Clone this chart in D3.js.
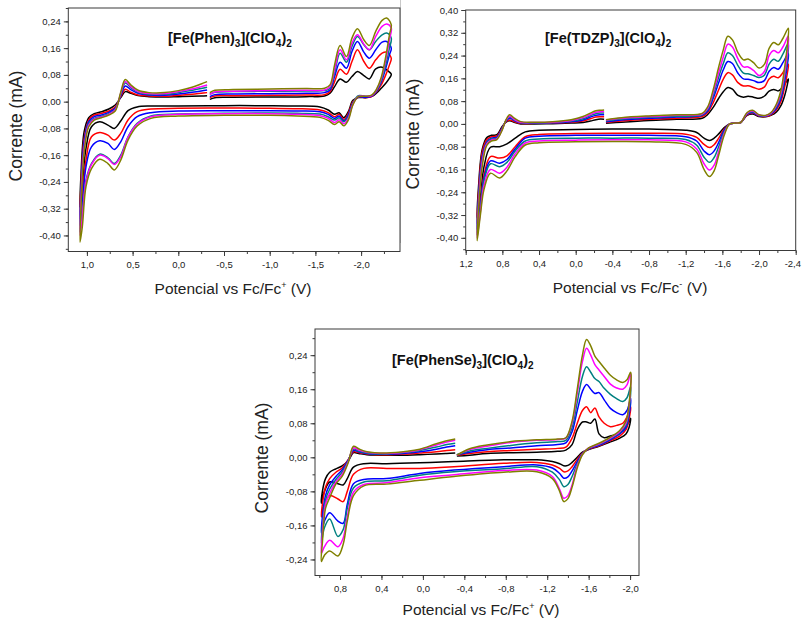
<!DOCTYPE html>
<html>
<head>
<meta charset="utf-8">
<script src="https://cdn.jsdelivr.net/npm/d3@7"></script>
<style>
  html, body { margin: 0; padding: 0; background: #fff; }
  svg { display: block; font-family: "Liberation Sans", Arial, sans-serif; }
</style>
</head>
<body>
<svg id="fig" width="802" height="621"></svg>
<script>
// Scan-rate series colours (slowest to fastest)
const seriesColors = ["#000000", "#ff0000", "#0000ff", "#008080", "#ff00ff", "#808000"];

// ---------- [Fe(Phen)3](ClO4)2 ----------
// potential (V vs Fc/Fc+) in scan order: forward sweep, reverse sweep, return sweep
const phenPotential = [
  -0.345, -0.40, -0.60, -1.00, -1.40, -1.60, -1.66, -1.71, -1.77, -1.84, -1.90, -1.96, -2.03, -2.09, -2.16, -2.23, -2.28, -2.33,
  -2.31, -2.27, -2.22, -2.17, -2.12, -2.05, -1.97, -1.91, -1.86, -1.81, -1.76, -1.71, -1.64, -1.55, -1.30, -1.00, -0.50, 0.00, 0.30, 0.45, 0.55, 0.63, 0.70, 0.77, 0.86, 0.95, 1.01, 1.05, 1.075,
  1.065, 1.03, 0.98, 0.92, 0.84, 0.76, 0.69, 0.63, 0.58, 0.52, 0.44, 0.32, 0.15, 0.00, -0.15, -0.25, -0.315
];
const phenBlack = [
  0.007, 0.012, 0.013, 0.014, 0.015, 0.017, 0.025, 0.045, 0.068, 0.058, 0.075, 0.090, 0.078, 0.068, 0.098, 0.103, 0.095, 0.082,
  0.070, 0.055, 0.040, 0.026, 0.016, 0.012, 0.012, 0.004, -0.030, -0.048, -0.033, -0.038, -0.025, -0.016, -0.013, -0.012, -0.012, -0.013, -0.013, -0.016, -0.027, -0.058, -0.080, -0.070, -0.060, -0.075, -0.140, -0.250, -0.315,
  -0.220, -0.090, -0.048, -0.036, -0.030, -0.022, -0.010, 0.012, 0.030, 0.025, 0.018, 0.015, 0.014, 0.015, 0.016, 0.017, 0.018
];
const phenRed = [
  0.012, 0.017, 0.018, 0.019, 0.020, 0.021, 0.030, 0.060, 0.097, 0.082, 0.120, 0.155, 0.120, 0.100, 0.125, 0.145, 0.148, 0.130,
  0.110, 0.080, 0.050, 0.030, 0.016, 0.012, 0.013, 0.000, -0.035, -0.053, -0.038, -0.045, -0.033, -0.025, -0.021, -0.020, -0.019, -0.020, -0.022, -0.030, -0.055, -0.095, -0.115, -0.100, -0.092, -0.105, -0.175, -0.285, -0.350,
  -0.250, -0.110, -0.055, -0.040, -0.035, -0.028, -0.016, 0.015, 0.037, 0.028, 0.020, 0.017, 0.016, 0.019, 0.022, 0.025, 0.027
];
const phenBlue = [
  0.015, 0.021, 0.023, 0.024, 0.025, 0.027, 0.035, 0.075, 0.118, 0.100, 0.150, 0.180, 0.148, 0.130, 0.155, 0.178, 0.180, 0.160,
  0.140, 0.100, 0.058, 0.032, 0.017, 0.013, 0.014, -0.004, -0.040, -0.057, -0.043, -0.050, -0.038, -0.030, -0.028, -0.027, -0.027, -0.028, -0.033, -0.045, -0.075, -0.120, -0.143, -0.125, -0.117, -0.135, -0.195, -0.305, -0.370,
  -0.270, -0.120, -0.060, -0.045, -0.040, -0.032, -0.020, 0.018, 0.047, 0.036, 0.025, 0.020, 0.019, 0.023, 0.028, 0.032, 0.035
];
const phenTeal = [
  0.022, 0.028, 0.030, 0.031, 0.032, 0.033, 0.040, 0.085, 0.145, 0.118, 0.165, 0.195, 0.170, 0.155, 0.180, 0.200, 0.205, 0.190,
  0.160, 0.110, 0.062, 0.034, 0.019, 0.016, 0.018, -0.005, -0.045, -0.060, -0.048, -0.055, -0.045, -0.037, -0.035, -0.034, -0.035, -0.037, -0.043, -0.065, -0.105, -0.160, -0.185, -0.168, -0.157, -0.185, -0.235, -0.334, -0.390,
  -0.290, -0.135, -0.065, -0.050, -0.044, -0.036, -0.023, 0.022, 0.056, 0.042, 0.028, 0.022, 0.022, 0.027, 0.034, 0.039, 0.043
];
const phenMagenta = [
  0.022, 0.029, 0.031, 0.033, 0.034, 0.035, 0.045, 0.095, 0.155, 0.125, 0.175, 0.200, 0.172, 0.155, 0.195, 0.225, 0.232, 0.220,
  0.185, 0.125, 0.068, 0.036, 0.019, 0.016, 0.016, -0.008, -0.050, -0.066, -0.054, -0.062, -0.050, -0.042, -0.038, -0.036, -0.036, -0.038, -0.045, -0.067, -0.107, -0.165, -0.188, -0.170, -0.160, -0.188, -0.240, -0.344, -0.400,
  -0.300, -0.140, -0.070, -0.052, -0.046, -0.038, -0.025, 0.025, 0.060, 0.045, 0.030, 0.024, 0.024, 0.030, 0.038, 0.045, 0.050
];
const phenOlive = [
  0.027, 0.034, 0.036, 0.038, 0.039, 0.040, 0.050, 0.110, 0.168, 0.135, 0.190, 0.218, 0.185, 0.168, 0.210, 0.243, 0.250, 0.230,
  0.200, 0.135, 0.072, 0.038, 0.020, 0.016, 0.015, -0.010, -0.055, -0.072, -0.060, -0.068, -0.056, -0.047, -0.043, -0.041, -0.041, -0.043, -0.050, -0.073, -0.115, -0.175, -0.204, -0.185, -0.172, -0.200, -0.254, -0.374, -0.420,
  -0.320, -0.150, -0.075, -0.055, -0.048, -0.040, -0.028, 0.028, 0.066, 0.050, 0.034, 0.027, 0.027, 0.033, 0.043, 0.053, 0.060
];
const phenXTicks = [1.0, 0.5, 0.0, -0.5, -1.0, -1.5, -2.0];
const phenYTicks = [0.24, 0.16, 0.08, 0.00, -0.08, -0.16, -0.24, -0.32, -0.40];

// ---------- [Fe(TDZP)3](ClO4)2 ----------
const tdzpPotential = [
  -0.33, -0.50, -0.80, -1.10, -1.38, -1.44, -1.50, -1.56, -1.61, -1.66, -1.71, -1.77, -1.83, -1.88, -1.94, -2.00, -2.06, -2.11, -2.16, -2.21, -2.26, -2.32,
  -2.31, -2.28, -2.24, -2.19, -2.13, -2.07, -2.00, -1.93, -1.87, -1.80, -1.74, -1.68, -1.62, -1.56, -1.51, -1.46, -1.40, -1.32, -1.20, -0.80, -0.40, 0.00, 0.40, 0.55, 0.66, 0.75, 0.83, 0.93, 1.00, 1.04, 1.075,
  1.06, 1.02, 0.97, 0.92, 0.86, 0.80, 0.76, 0.72, 0.67, 0.60, 0.45, 0.25, 0.05, -0.08, -0.16, -0.22, -0.27, -0.31
];
const tdzpBlack = [
  0.002, 0.006, 0.012, 0.016, 0.020, 0.033, 0.058, 0.090, 0.113, 0.128, 0.122, 0.100, 0.094, 0.097, 0.094, 0.090, 0.098, 0.115, 0.121, 0.116, 0.130, 0.158,
  0.140, 0.100, 0.065, 0.042, 0.030, 0.025, 0.026, 0.035, 0.030, 0.005, 0.003, 0.000, -0.013, -0.035, -0.050, -0.058, -0.050, -0.030, -0.022, -0.018, -0.018, -0.020, -0.022, -0.028, -0.050, -0.070, -0.080, -0.082, -0.150, -0.260, -0.330,
  -0.220, -0.090, -0.048, -0.040, -0.038, -0.008, 0.006, 0.011, 0.006, 0.000, 0.000, 0.001, 0.003, 0.005, 0.010, 0.015, 0.017, 0.016
];
const tdzpRed = [
  0.005, 0.010, 0.016, 0.020, 0.026, 0.040, 0.075, 0.120, 0.157, 0.180, 0.172, 0.145, 0.133, 0.134, 0.128, 0.122, 0.130, 0.158, 0.167, 0.162, 0.180, 0.210,
  0.180, 0.130, 0.080, 0.050, 0.032, 0.026, 0.028, 0.038, 0.032, 0.005, 0.003, 0.000, -0.018, -0.050, -0.073, -0.083, -0.072, -0.047, -0.036, -0.033, -0.033, -0.034, -0.037, -0.045, -0.080, -0.112, -0.120, -0.115, -0.180, -0.280, -0.350,
  -0.240, -0.100, -0.055, -0.045, -0.042, -0.012, 0.008, 0.014, 0.008, 0.002, 0.002, 0.003, 0.006, 0.010, 0.018, 0.024, 0.025, 0.025
];
const tdzpBlue = [
  0.008, 0.014, 0.020, 0.024, 0.030, 0.045, 0.090, 0.145, 0.190, 0.219, 0.212, 0.178, 0.158, 0.157, 0.152, 0.145, 0.153, 0.185, 0.198, 0.192, 0.215, 0.248,
  0.210, 0.150, 0.090, 0.055, 0.034, 0.027, 0.029, 0.040, 0.034, 0.005, 0.003, 0.000, -0.022, -0.065, -0.095, -0.108, -0.095, -0.060, -0.045, -0.040, -0.040, -0.040, -0.043, -0.050, -0.088, -0.125, -0.138, -0.130, -0.190, -0.290, -0.370,
  -0.260, -0.115, -0.062, -0.050, -0.046, -0.014, 0.010, 0.020, 0.012, 0.004, 0.003, 0.004, 0.008, 0.014, 0.024, 0.030, 0.032, 0.032
];
const tdzpTeal = [
  0.010, 0.017, 0.023, 0.027, 0.032, 0.050, 0.100, 0.165, 0.212, 0.250, 0.240, 0.205, 0.178, 0.176, 0.170, 0.163, 0.172, 0.210, 0.227, 0.220, 0.245, 0.283,
  0.230, 0.165, 0.100, 0.060, 0.036, 0.028, 0.030, 0.043, 0.036, 0.005, 0.003, 0.000, -0.028, -0.080, -0.118, -0.135, -0.117, -0.075, -0.055, -0.050, -0.050, -0.050, -0.053, -0.060, -0.095, -0.135, -0.150, -0.140, -0.200, -0.300, -0.390,
  -0.270, -0.125, -0.066, -0.053, -0.050, -0.016, 0.012, 0.024, 0.014, 0.005, 0.004, 0.005, 0.010, 0.018, 0.029, 0.036, 0.038, 0.038
];
const tdzpMagenta = [
  0.013, 0.020, 0.026, 0.030, 0.035, 0.055, 0.110, 0.180, 0.235, 0.280, 0.270, 0.228, 0.200, 0.200, 0.188, 0.170, 0.185, 0.240, 0.258, 0.250, 0.270, 0.309,
  0.250, 0.180, 0.110, 0.065, 0.038, 0.029, 0.031, 0.045, 0.038, 0.005, 0.003, 0.000, -0.034, -0.097, -0.145, -0.162, -0.140, -0.088, -0.063, -0.056, -0.056, -0.057, -0.060, -0.067, -0.105, -0.152, -0.173, -0.160, -0.215, -0.310, -0.400,
  -0.285, -0.135, -0.070, -0.057, -0.052, -0.018, 0.013, 0.027, 0.016, 0.006, 0.005, 0.006, 0.012, 0.022, 0.033, 0.041, 0.043, 0.044
];
const tdzpOlive = [
  0.015, 0.022, 0.028, 0.032, 0.037, 0.060, 0.120, 0.200, 0.260, 0.308, 0.295, 0.250, 0.225, 0.228, 0.215, 0.196, 0.210, 0.265, 0.286, 0.278, 0.300, 0.336,
  0.280, 0.200, 0.120, 0.070, 0.040, 0.030, 0.032, 0.048, 0.040, 0.005, 0.003, 0.000, -0.040, -0.110, -0.165, -0.185, -0.160, -0.100, -0.072, -0.063, -0.062, -0.063, -0.066, -0.074, -0.115, -0.165, -0.190, -0.173, -0.230, -0.320, -0.410,
  -0.300, -0.150, -0.075, -0.060, -0.055, -0.020, 0.015, 0.032, 0.020, 0.008, 0.006, 0.008, 0.015, 0.026, 0.038, 0.046, 0.048, 0.049
];
const tdzpXTicks = [1.2, 0.8, 0.4, 0.0, -0.4, -0.8, -1.2, -1.6, -2.0, -2.4];
const tdzpYTicks = [0.40, 0.32, 0.24, 0.16, 0.08, 0.00, -0.08, -0.16, -0.24, -0.32, -0.40];

// ---------- [Fe(PhenSe)3](ClO4)2 ----------
const phenSePotential = [
  -0.328, -0.45, -0.62, -0.85, -1.10, -1.30, -1.38, -1.44, -1.49, -1.54, -1.58, -1.62, -1.66, -1.70, -1.75, -1.81, -1.87, -1.93, -1.97, -2.005,
  -1.99, -1.96, -1.90, -1.80, -1.70, -1.60, -1.54, -1.49, -1.44, -1.40, -1.36, -1.32, -1.25, -1.10, -0.78, -0.30, 0.03, 0.35, 0.57, 0.67, 0.73, 0.77, 0.82, 0.90, 0.95, 0.98,
  0.97, 0.94, 0.90, 0.84, 0.78, 0.72, 0.67, 0.62, 0.54, 0.35, 0.15, 0.03, -0.13, -0.23, -0.312
];
const phenSeBlack = [
  0.003, 0.005, 0.009, 0.011, 0.012, 0.014, 0.017, 0.030, 0.065, 0.083, 0.083, 0.080, 0.090, 0.055, 0.046, 0.050, 0.054, 0.062, 0.075, 0.092,
  0.070, 0.055, 0.045, 0.035, 0.026, 0.018, 0.012, 0.000, -0.012, -0.019, -0.020, -0.015, -0.010, -0.006, -0.006, -0.010, -0.013, -0.015, -0.015, -0.023, -0.050, -0.065, -0.062, -0.058, -0.080, -0.108,
  -0.080, -0.050, -0.035, -0.027, -0.020, -0.008, 0.011, 0.009, 0.006, 0.005, 0.005, 0.006, 0.008, 0.009, 0.010
];
const phenSeRed = [
  0.005, 0.009, 0.013, 0.016, 0.019, 0.021, 0.024, 0.045, 0.080, 0.110, 0.119, 0.105, 0.116, 0.095, 0.080, 0.072, 0.075, 0.080, 0.095, 0.119,
  0.090, 0.065, 0.050, 0.038, 0.027, 0.019, 0.010, -0.005, -0.022, -0.032, -0.034, -0.026, -0.018, -0.012, -0.014, -0.022, -0.026, -0.026, -0.026, -0.040, -0.080, -0.104, -0.098, -0.090, -0.110, -0.140,
  -0.110, -0.070, -0.050, -0.035, -0.025, -0.005, 0.013, 0.011, 0.008, 0.006, 0.008, 0.010, 0.013, 0.016, 0.018
];
const phenSeBlue = [
  0.006, 0.012, 0.018, 0.022, 0.027, 0.030, 0.034, 0.060, 0.110, 0.155, 0.171, 0.160, 0.150, 0.152, 0.135, 0.115, 0.105, 0.100, 0.110, 0.139,
  0.100, 0.070, 0.055, 0.040, 0.028, 0.020, 0.009, -0.010, -0.032, -0.046, -0.049, -0.038, -0.025, -0.018, -0.022, -0.030, -0.038, -0.050, -0.052, -0.062, -0.110, -0.155, -0.150, -0.130, -0.150, -0.179,
  -0.140, -0.090, -0.065, -0.045, -0.030, -0.006, 0.016, 0.013, 0.009, 0.007, 0.010, 0.013, 0.019, 0.024, 0.027
];
const phenSeTeal = [
  0.006, 0.015, 0.021, 0.028, 0.034, 0.037, 0.040, 0.070, 0.130, 0.190, 0.213, 0.200, 0.185, 0.178, 0.162, 0.148, 0.138, 0.131, 0.140, 0.166,
  0.110, 0.075, 0.058, 0.042, 0.030, 0.021, 0.008, -0.015, -0.045, -0.064, -0.069, -0.053, -0.035, -0.022, -0.027, -0.034, -0.042, -0.055, -0.058, -0.072, -0.120, -0.170, -0.186, -0.145, -0.165, -0.202,
  -0.160, -0.100, -0.075, -0.052, -0.035, -0.008, 0.019, 0.015, 0.010, 0.008, 0.012, 0.016, 0.024, 0.030, 0.033
];
const phenSeMagenta = [
  0.005, 0.018, 0.026, 0.035, 0.040, 0.042, 0.045, 0.080, 0.150, 0.225, 0.256, 0.240, 0.218, 0.205, 0.190, 0.172, 0.163, 0.160, 0.170, 0.197,
  0.120, 0.080, 0.060, 0.044, 0.031, 0.022, 0.007, -0.020, -0.065, -0.090, -0.096, -0.075, -0.045, -0.030, -0.031, -0.041, -0.048, -0.060, -0.064, -0.082, -0.140, -0.190, -0.210, -0.195, -0.210, -0.226,
  -0.180, -0.110, -0.085, -0.058, -0.040, -0.010, 0.022, 0.017, 0.012, 0.009, 0.013, 0.018, 0.029, 0.036, 0.040
];
const phenSeOlive = [
  0.005, 0.020, 0.029, 0.037, 0.041, 0.043, 0.046, 0.085, 0.160, 0.240, 0.277, 0.262, 0.238, 0.225, 0.210, 0.193, 0.182, 0.176, 0.182, 0.200,
  0.125, 0.085, 0.063, 0.046, 0.033, 0.022, 0.006, -0.025, -0.070, -0.097, -0.104, -0.080, -0.050, -0.034, -0.035, -0.045, -0.054, -0.063, -0.067, -0.090, -0.150, -0.205, -0.232, -0.220, -0.230, -0.245,
  -0.200, -0.120, -0.095, -0.063, -0.045, -0.012, 0.026, 0.020, 0.013, 0.010, 0.014, 0.019, 0.032, 0.039, 0.043
];
const phenSeXTicks = [0.8, 0.4, 0.0, -0.4, -0.8, -1.2, -1.6, -2.0];
const phenSeYTicks = [0.24, 0.16, 0.08, 0.00, -0.08, -0.16, -0.24];

// ---------- drawing ----------
const locale = d3.formatLocale({ decimal: ",", thousands: ".", grouping: [3], currency: ["", ""], minus: "-" });
const fmtV = locale.format(".1f");
const fmtI = locale.format(".2f");
const W = 802;

const panels = [
  {
    potential: phenPotential,
    currents: [phenBlack, phenRed, phenBlue, phenTeal, phenMagenta, phenOlive],
    xTicks: phenXTicks, yTicks: phenYTicks, xMinor: 0.25, yMinor: 0.04,
    box: { left: 68.3, right: 400, top: 8, bottom: 251.5 },
    xDomain: [1.2035, -2.4256], yDomain: [-0.448, 0.28],
    name: [["[Fe(Phen)", 0], ["3", 1], ["](ClO", 0], ["4", 1], [")", 0], ["2", 1]],
    nameX: 168, nameY: 43,
    yTitle: { x: 16, y: 126 }, xTitle: { x: 233, y: 294 }, sup: "+"
  },
  {
    potential: tdzpPotential,
    currents: [tdzpBlack, tdzpRed, tdzpBlue, tdzpTeal, tdzpMagenta, tdzpOlive],
    xTicks: tdzpXTicks, yTicks: tdzpYTicks, xMinor: 0.2, yMinor: 0.04,
    box: { left: 465.7, right: 795.7, top: 10, bottom: 250.5 },
    xDomain: [1.2, -2.4], yDomain: [-0.4445, 0.40],
    name: [["[Fe(TDZP)", 0], ["3", 1], ["](ClO", 0], ["4", 1], [")", 0], ["2", 1]],
    nameX: 545, nameY: 43,
    yTitle: { x: 413, y: 134 }, xTitle: { x: 630, y: 293 }, sup: "-"
  },
  {
    potential: phenSePotential,
    currents: [phenSeBlack, phenSeRed, phenSeBlue, phenSeTeal, phenSeMagenta, phenSeOlive],
    xTicks: phenSeXTicks, yTicks: phenSeYTicks, xMinor: 0.2, yMinor: 0.04,
    box: { left: 315, right: 639, top: 329, bottom: 575.5 },
    xDomain: [1.0415, -2.086], yDomain: [-0.2777, 0.3015],
    name: [["[Fe(PhenSe)", 0], ["3", 1], ["](ClO", 0], ["4", 1], [")", 0], ["2", 1]],
    nameX: 392, nameY: 365,
    yTitle: { x: 262, y: 458 }, xTitle: { x: 481, y: 615 }, sup: "+"
  }
];

const svg = d3.select("#fig");

// thin border left by the neighbouring figure frame
svg.append("line")
  .attr("x1", 400.5).attr("x2", 400.5).attr("y1", 0).attr("y2", 243)
  .attr("stroke", "#c8c8c8").attr("stroke-width", 1);

function minorValues(domain, step) {
  const lo = Math.min(domain[0], domain[1]), hi = Math.max(domain[0], domain[1]);
  const out = [];
  for (let k = Math.ceil(lo / step - 1e-9); k * step <= hi + 1e-9; k++) out.push(+(k * step).toFixed(4));
  return out;
}

panels.forEach(p => {
  const b = p.box;
  const x = d3.scaleLinear().domain(p.xDomain).range([b.left, b.right]);
  const y = d3.scaleLinear().domain(p.yDomain).range([b.bottom, b.top]);
  const g = svg.append("g");

  // voltammograms, one path per scan rate
  const line = d3.line()
    .x(d => x(d[0]))
    .y(d => y(d[1]))
    .curve(d3.curveCatmullRom.alpha(0.5));
  const clipId = "clip" + Math.round(b.left);
  g.append("clipPath").attr("id", clipId)
    .append("rect").attr("x", b.left).attr("y", b.top)
    .attr("width", b.right - b.left).attr("height", b.bottom - b.top);
  const curves = g.append("g").attr("clip-path", `url(#${clipId})`);
  p.currents.forEach((cur, i) => {
    curves.append("path")
      .datum(d3.zip(p.potential, cur))
      .attr("fill", "none")
      .attr("stroke", seriesColors[i])
      .attr("stroke-width", 1.5)
      .attr("stroke-linejoin", "round")
      .attr("d", line);
  });

  // frame
  g.append("rect")
    .attr("x", b.left).attr("y", b.top)
    .attr("width", b.right - b.left).attr("height", b.bottom - b.top)
    .attr("fill", "none").attr("stroke", "#3a3a3a").attr("stroke-width", 1);

  // axes: minor then major ticks, pointing outwards
  const xMinorAxis = d3.axisBottom(x).tickValues(minorValues(p.xDomain, p.xMinor)).tickSize(2.5).tickFormat("");
  const xAxis = d3.axisBottom(x).tickValues(p.xTicks).tickSize(4.5).tickPadding(5).tickFormat(fmtV);
  const yMinorAxis = d3.axisLeft(y).tickValues(minorValues(p.yDomain, p.yMinor)).tickSize(2.5).tickFormat("");
  const yAxis = d3.axisLeft(y).tickValues(p.yTicks).tickSize(4.5).tickPadding(3).tickFormat(fmtI);

  [[xMinorAxis, `translate(0,${b.bottom})`], [xAxis, `translate(0,${b.bottom})`],
   [yMinorAxis, `translate(${b.left},0)`], [yAxis, `translate(${b.left},0)`]].forEach(([ax, tr]) => {
    const a = g.append("g").attr("transform", tr).call(ax);
    a.select(".domain").remove();
    a.selectAll("line").attr("stroke", "#3a3a3a");
    a.selectAll("text").attr("fill", "#222").attr("font-size", 9.5)
      .attr("font-family", '"Liberation Sans", Arial, sans-serif');
    // keep tick labels inside the page
    a.selectAll(".tick text").each(function () {
      const bb = this.getBoundingClientRect();
      if (bb.right > W - 1) d3.select(this).attr("dx", -(bb.right - (W - 1)));
    });
  });

  // compound name with subscripts
  const nm = g.append("text")
    .attr("x", p.nameX).attr("y", p.nameY)
    .attr("font-size", 14.5).attr("font-weight", "bold").attr("fill", "#111");
  let shifted = false;
  p.name.forEach(([txt, sub]) => {
    const t = nm.append("tspan").text(txt);
    if (sub) { t.attr("font-size", 10).attr("dy", shifted ? 0 : 4); shifted = true; }
    else { t.attr("dy", shifted ? -4 : 0); shifted = false; }
  });

  // axis titles
  g.append("text")
    .attr("transform", `translate(${p.yTitle.x},${p.yTitle.y}) rotate(-90)`)
    .attr("text-anchor", "middle").attr("dy", "0.35em")
    .attr("font-size", 17.5).attr("fill", "#222")
    .text("Corrente (mA)");

  const xt = g.append("text")
    .attr("x", p.xTitle.x).attr("y", p.xTitle.y)
    .attr("text-anchor", "middle").attr("font-size", 15.5).attr("fill", "#222");
  xt.append("tspan").text("Potencial vs Fc/Fc");
  xt.append("tspan").text(p.sup).attr("font-size", 9).attr("dy", -6);
  xt.append("tspan").text(" (V)").attr("dy", 6);
});
</script>
</body>
</html>
